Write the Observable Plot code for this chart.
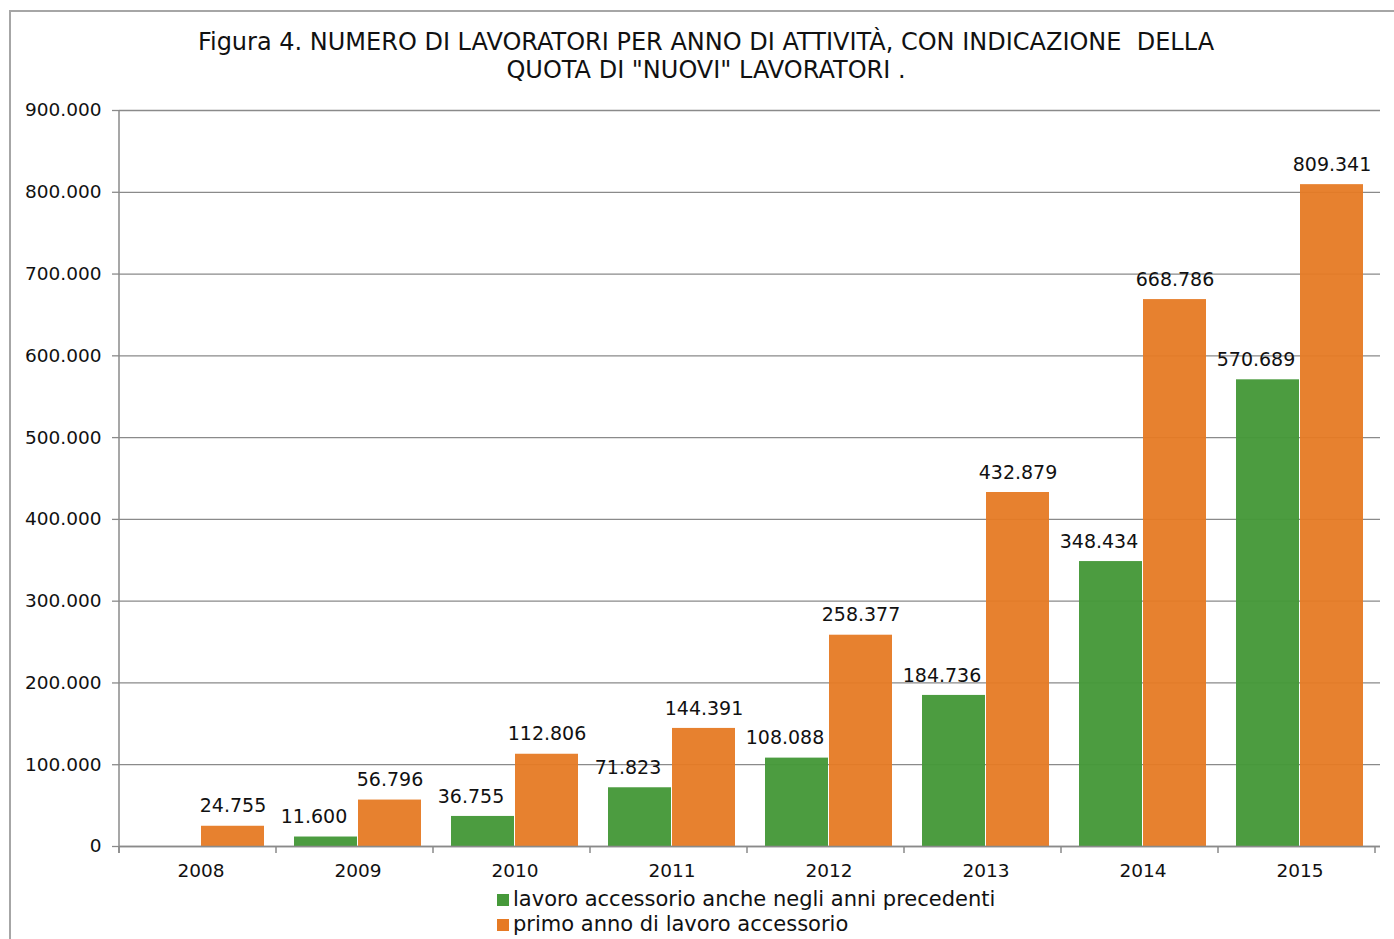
<!DOCTYPE html>
<html><head><meta charset="utf-8">
<script src="https://cdn.jsdelivr.net/npm/d3@7"></script>
<script src="https://cdn.jsdelivr.net/npm/@observablehq/plot@0.6"></script>
<style>
body{margin:0;background:#fff;font-family:"DejaVu Sans",Verdana,sans-serif;}
#frame{position:absolute;left:9px;top:10px;width:1420px;height:1000px;border:2px solid #a6a6a6;box-sizing:border-box;}
#title{position:absolute;left:0;width:1412px;top:28px;text-align:center;font-size:24px;line-height:28px;color:#111;white-space:pre;}
#chart{position:absolute;left:0;top:0;}
#legend{position:absolute;left:497px;top:887px;font-size:21px;line-height:25px;color:#111;}
#legend .sw{display:inline-block;width:12px;height:12px;margin-right:4px;vertical-align:0px;}
</style></head>
<body>
<div id="frame"></div>
<div id="title"></div>
<div id="chart"></div>
<div id="legend"></div>
<script>
const titleLines = ["Figura 4. NUMERO DI LAVORATORI PER ANNO DI ATTIVITÀ, CON INDICAZIONE  DELLA", "QUOTA DI \"NUOVI\" LAVORATORI ."];
const years = ["2008","2009","2010","2011","2012","2013","2014","2015"];
const seriesNames = ["lavoro accessorio anche negli anni precedenti", "primo anno di lavoro accessorio"];
const previousWorkers = [null, 11600, 36755, 71823, 108088, 184736, 348434, 570689];
const newWorkers = [24755, 56796, 112806, 144391, 258377, 432879, 668786, 809341];
const yTicks = [0, 100000, 200000, 300000, 400000, 500000, 600000, 700000, 800000, 900000];
const seriesColors = ["#46993a", "#e67a24"];

document.getElementById("title").textContent = titleLines.join("\n");
document.getElementById("legend").innerHTML = seriesNames.map((s, i) =>
  `<div><span class="sw" style="background:${seriesColors[i]}"></span>${s}</div>`).join("");

const it = d3.formatLocale({decimal: ",", thousands: ".", grouping: [3], currency: ["€", ""]});
const fmt = it.format(",");

const rowsPrev = years.map((y, i) => ({year: y, value: previousWorkers[i]})).filter(d => d.value != null);
const rowsNew = years.map((y, i) => ({year: y, value: newWorkers[i]}));

const grid = "#8a8a8a";
const plot = Plot.plot({
  width: 1394, height: 890,
  marginTop: 110, marginBottom: 44, marginLeft: 119, marginRight: 14,
  style: {fontFamily: "'DejaVu Sans', Verdana, sans-serif", fontSize: "18.5px", color: "#111", background: "transparent"},
  x: {type: "band", domain: years, padding: 0, label: null},
  y: {domain: [0, 900000], label: null},
  marks: [
    Plot.gridY(yTicks, {stroke: grid, strokeOpacity: 1, strokeWidth: 1.3}),
    Plot.barY(rowsPrev, {x: "year", y: "value", fill: seriesColors[0], insetLeft: 15, insetRight: 79, fillOpacity: 0.97}),
    Plot.barY(rowsNew, {x: "year", y: "value", fill: seriesColors[1], insetLeft: 79, insetRight: 15, fillOpacity: 0.95}),
    Plot.ruleY([0], {stroke: grid, strokeWidth: 1.5}),
    Plot.text(rowsPrev, {x: "year", y: "value", text: d => fmt(d.value), dx: -44, dy: -20, fontSize: 19, fill: "#111"}),
    Plot.text(rowsNew, {x: "year", y: "value", text: d => fmt(d.value), dx: 32, dy: -20, fontSize: 19, fill: "#111"}),
    Plot.axisY(yTicks, {tickFormat: fmt, tickSize: 7, tickPadding: 11, stroke: grid, strokeWidth: 1.3, fontSize: 18.5, fill: "#111"}),
    Plot.axisX({tickSize: 0, tickPadding: 17, fontSize: 18.5, fill: "#111"})
  ]
});
document.getElementById("chart").appendChild(plot);

// y-axis line and boundary tick marks on the category axis
const svg = d3.select(plot);
const xs = plot.scale("x");
svg.append("line").attr("x1", xs.range[0]).attr("x2", xs.range[0]).attr("y1", 110).attr("y2", 853)
  .attr("stroke", grid).attr("stroke-width", 1.5);
for (let i = 0; i <= years.length; i++) {
  const x = xs.range[0] + i * xs.step;
  svg.append("line").attr("x1", x).attr("x2", x).attr("y1", 846).attr("y2", 853)
    .attr("stroke", grid).attr("stroke-width", 1.5);
}
</script>
</body></html>
